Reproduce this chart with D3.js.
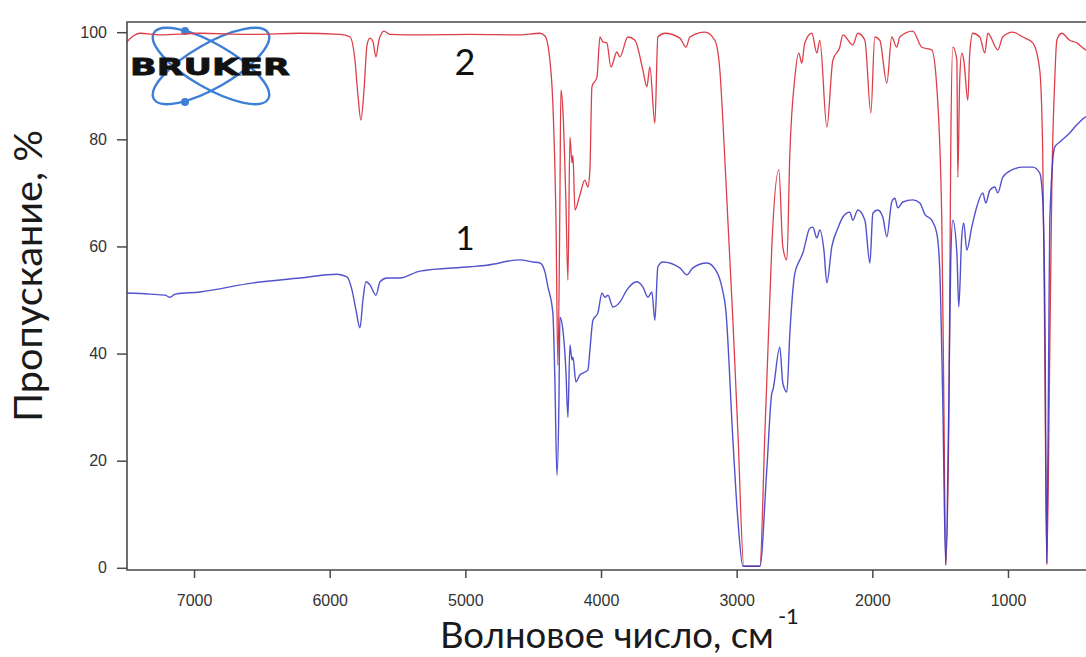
<!DOCTYPE html>
<html>
<head>
<meta charset="utf-8">
<script src="https://cdn.jsdelivr.net/npm/d3@7"></script>
<style>
  html, body { margin: 0; padding: 0; background: #fff; }
  svg { display: block; }
</style>
</head>
<body>
<svg id="chart" width="1086" height="657"></svg>
<script>
// axis ticks
const xTicks = [7000, 6000, 5000, 4000, 3000, 2000, 1000];
const yTicks = [0, 20, 40, 60, 80, 100];

// spectrum 1 (blue): wavenumber, cm-1 / transmittance, %
const wn1 = [7494, 7324, 7214, 7177, 7140, 6956, 6565, 6219, 5946, 5873, 5836, 5806, 5777, 5755, 5733, 5703, 5659, 5629, 5578, 5482,
  5335, 4966, 4841, 4598, 4502, 4450, 4413, 4391, 4355, 4340, 4325, 4310, 4303, 4281, 4259, 4244, 4229, 4214, 4207, 4185,
  4156, 4097, 4082, 4060, 4023, 3993, 3971, 3949, 3912, 3861, 3809, 3736, 3691, 3654, 3625, 3603, 3581, 3544, 3419, 3367,
  3323, 3220, 3146, 3109, 3080, 3028, 2991, 2954, 2829, 2777, 2741, 2733, 2682, 2660, 2630, 2608, 2571, 2534, 2512, 2461,
  2439, 2409, 2387, 2357, 2335, 2299, 2254, 2217, 2166, 2144, 2107, 2055, 2018, 1996, 1960, 1923, 1893, 1857, 1834, 1812,
  1775, 1702, 1650, 1613, 1562, 1525, 1503, 1481, 1459, 1436, 1422, 1407, 1377, 1363, 1341, 1326, 1304, 1267, 1230, 1186,
  1164, 1134, 1097, 1075, 1039, 972, 891, 817, 766, 744, 729, 714, 700, 692, 655, 618, 545, 493, 427, 400];
const t1 = [51.3, 51.1, 50.9, 50.5, 51.1, 51.5, 53.2, 54.1, 54.8, 54.3, 51.9, 48.1, 44.8, 50.0, 53.4, 52.8, 50.9, 53.4, 54.1, 54.1,
  55.4, 56.2, 56.5, 57.5, 57.1, 56.9, 55.2, 52.4, 47.6, 35.0, 17.3, 31.3, 46.8, 44.4, 36.9, 28.1, 41.6, 38.8, 39.3, 34.7,
  36.0, 36.9, 40.6, 46.2, 47.6, 51.3, 50.5, 50.9, 48.7, 49.6, 51.9, 53.4, 52.4, 50.5, 51.5, 46.2, 56.2, 57.1, 56.0, 54.7,
  56.0, 56.9, 55.2, 52.4, 48.1, 23.9, 8.9, 0.3, 0.3, 18.8, 32.6, 33.2, 41.2, 34.5, 32.8, 43.8, 55.0, 57.5, 58.8, 63.4,
  63.6, 61.6, 63.1, 59.3, 53.2, 59.9, 63.4, 65.5, 66.4, 64.9, 66.8, 64.9, 56.9, 66.2, 66.8, 65.5, 61.8, 68.3, 69.0, 67.2,
  68.3, 68.7, 68.1, 66.0, 64.9, 62.5, 55.6, 31.3, 0.5, 31.3, 57.5, 64.9, 58.8, 48.7, 61.8, 64.4, 59.3, 63.6, 67.4, 70.0,
  68.1, 70.5, 71.1, 70.0, 72.9, 74.3, 74.8, 74.8, 73.7, 68.7, 50.0, 0.9, 40.6, 64.9, 78.6, 79.5, 81.2, 82.7, 84.2, 84.5];

// spectrum 2 (red)
const wn2 = [7494, 7449, 7398, 7251, 6956, 6587, 6219, 5924, 5850, 5814, 5792, 5770, 5747, 5725, 5703, 5681, 5659, 5637, 5600, 5556,
  5335, 4966, 4598, 4450, 4413, 4377, 4355, 4332, 4318, 4303, 4296, 4281, 4259, 4244, 4229, 4214, 4207, 4192, 4156, 4119,
  4097, 4082, 4067, 4030, 4008, 3986, 3957, 3927, 3883, 3861, 3802, 3750, 3691, 3662, 3640, 3603, 3581, 3529, 3419, 3374,
  3345, 3234, 3161, 3124, 3102, 3065, 3028, 2991, 2947, 2829, 2792, 2756, 2741, 2689, 2660, 2630, 2608, 2571, 2542, 2520,
  2498, 2446, 2409, 2387, 2335, 2291, 2240, 2217, 2144, 2107, 2055, 2011, 1982, 1945, 1893, 1857, 1820, 1798, 1702, 1635,
  1562, 1525, 1488, 1473, 1459, 1436, 1422, 1407, 1377, 1370, 1356, 1341, 1326, 1296, 1282, 1260, 1208, 1171, 1149, 1075,
  1039, 965, 891, 817, 766, 744, 729, 714, 692, 677, 655, 640, 604, 545, 493, 427, 400];
const t2 = [98.2, 99.3, 99.8, 99.5, 99.8, 99.6, 99.8, 99.6, 99.1, 94.8, 88.3, 83.6, 89.2, 97.6, 98.9, 98.2, 95.4, 98.5, 100.2, 99.6,
  99.5, 99.6, 99.5, 99.8, 99.3, 94.8, 86.7, 64.9, 37.8, 68.6, 89.2, 85.5, 68.6, 53.7, 80.4, 75.6, 77.0, 66.8, 69.6, 72.4,
  71.1, 74.3, 89.8, 91.6, 99.1, 98.2, 98.0, 93.5, 96.3, 95.4, 99.1, 98.5, 92.9, 89.8, 93.5, 83.0, 99.1, 99.8, 98.9, 97.2,
  99.1, 100.0, 98.5, 92.9, 83.6, 64.9, 46.2, 25.2, 0.3, 0.3, 25.2, 50.0, 59.9, 74.3, 59.9, 57.5, 77.4, 91.6, 96.1, 94.2,
  98.0, 99.8, 96.1, 98.5, 82.3, 94.8, 97.2, 99.5, 97.6, 99.8, 98.5, 84.9, 99.1, 98.5, 90.5, 99.1, 97.2, 99.1, 100.2, 97.2,
  96.7, 89.8, 64.9, 31.3, 0.5, 27.6, 78.0, 97.2, 94.8, 72.9, 91.0, 96.1, 94.8, 87.3, 96.1, 99.8, 99.1, 96.1, 99.8, 96.7,
  99.1, 100.0, 99.1, 98.0, 92.9, 77.4, 40.6, 0.5, 40.6, 71.1, 91.4, 98.5, 99.8, 98.5, 98.0, 96.7, 96.5];

// curve number labels: [text, wavenumber, transmittance]
const curveLabels = [["1", 5003, 59.3], ["2", 5003, 92.0]];

const svg = d3.select('#chart');
const W = 1086, H = 657;
svg.append('rect').attr('width', W).attr('height', H).attr('fill', '#fff');

const plotLeft = 127, plotTop = 22, plotBottom = 570;
const x = d3.scaleLinear().domain([7500, 400]).range([126.2, 1089.4]);
const y = d3.scaleLinear().domain([0, 100]).range([567.8, 32.2]);

svg.append('defs').append('clipPath').attr('id', 'plot-clip')
    .append('rect')
    .attr('x', plotLeft).attr('y', plotTop)
    .attr('width', W - plotLeft).attr('height', plotBottom - plotTop);

// bruker logo (decoration)
const logo = svg.append('g').attr('class', 'logo');
[30, -30].forEach(a => {
    logo.append('ellipse')
        .attr('cx', 211).attr('cy', 66)
        .attr('rx', 66).attr('ry', 22)
        .attr('transform', `rotate(${a},211,66)`)
        .attr('fill', 'none')
        .attr('stroke', '#3d7fd4')
        .attr('stroke-width', 2.4);
});
[[185, 31], [185, 102]].forEach(p => {
    logo.append('circle').attr('cx', p[0]).attr('cy', p[1]).attr('r', 4).attr('fill', '#3d7fd4');
});
logo.append('text')
    .attr('x', 130).attr('y', 75)
    .attr('font-family', 'DejaVu Sans')
    .attr('font-weight', 'bold')
    .attr('font-size', 23)
    .attr('textLength', 160)
    .attr('lengthAdjust', 'spacingAndGlyphs')
    .attr('fill', '#111')
    .attr('stroke', '#111')
    .attr('stroke-width', 0.8)
    .text('BRUKER');

// spectra
const line = d3.line()
    .x(d => x(d[0]))
    .y(d => y(d[1]))
    .curve(d3.curveMonotoneX);

const plot = svg.append('g').attr('clip-path', 'url(#plot-clip)');
plot.append('path')
    .datum(wn2.map((w, i) => [w, t2[i]]))
    .attr('d', line)
    .attr('fill', 'none')
    .attr('stroke', '#dd3f4a')
    .attr('stroke-width', 1.3)
    .attr('stroke-linejoin', 'round');
plot.append('path')
    .datum(wn1.map((w, i) => [w, t1[i]]))
    .attr('d', line)
    .attr('fill', 'none')
    .attr('stroke', '#3434c4')
    .attr('stroke-opacity', 0.85)
    .attr('stroke-width', 1.4)
    .attr('stroke-linejoin', 'round');

// frame
svg.append('path')
    .attr('d', `M${W + 5},${plotTop}H${plotLeft}V${plotBottom}H${W + 5}`)
    .attr('fill', 'none')
    .attr('stroke', '#4a4a4a')
    .attr('stroke-width', 1.6);

// axes
const yAxis = svg.append('g')
    .attr('transform', `translate(${plotLeft},0)`)
    .call(d3.axisLeft(y).tickValues(yTicks).tickSize(10).tickPadding(10));
const xAxis = svg.append('g')
    .attr('transform', `translate(0,${plotBottom})`)
    .call(d3.axisBottom(x).tickValues(xTicks).tickSize(8).tickPadding(17).tickFormat(d3.format('d')));

[yAxis, xAxis].forEach(g => {
    g.select('.domain').remove();
    g.selectAll('line').attr('stroke', '#4a4a4a').attr('stroke-width', 1.5);
    g.selectAll('text')
        .attr('font-family', '"Liberation Sans", Arial, sans-serif')
        .attr('font-size', 16)
        .attr('fill', '#333');
});

// curve numbers
svg.selectAll('.curve-label')
    .data(curveLabels)
    .enter().append('text')
    .attr('class', 'curve-label')
    .attr('x', d => x(d[1]))
    .attr('y', d => y(d[2]))
    .attr('text-anchor', 'middle')
    .attr('font-family', 'Lato, "Open Sans", sans-serif')
    .attr('font-size', d => d[0] === '2' ? 36 : 33)
    .attr('fill', '#111')
    .text(d => d[0]);

// axis titles
svg.append('text')
    .attr('transform', 'translate(42,276) rotate(-90)')
    .attr('text-anchor', 'middle')
    .attr('font-family', 'Lato, "Open Sans", sans-serif')
    .attr('font-size', 38)
    .attr('textLength', 292)
    .attr('lengthAdjust', 'spacingAndGlyphs')
    .attr('fill', '#1a1a1a')
    .text('Пропускание, %');

// x title: fit main part to its width in the reference, then the superscript
const xTitle = svg.append('text')
    .attr('x', 440).attr('y', 648)
    .attr('font-family', 'Lato, "Open Sans", sans-serif')
    .attr('font-size', 38)
    .attr('fill', '#1a1a1a')
    .text('Волновое число, см');
const natural = xTitle.node().getComputedTextLength();
const fitSize = 38 * 334 / natural;
xTitle.attr('font-size', fitSize);
const mainEnd = 440 + xTitle.node().getComputedTextLength();
svg.append('text')
    .attr('x', mainEnd + 4).attr('y', 624)
    .attr('font-family', 'Lato, "Open Sans", sans-serif')
    .attr('font-size', 22)
    .attr('fill', '#1a1a1a')
    .text('-1');
</script>
</body>
</html>
